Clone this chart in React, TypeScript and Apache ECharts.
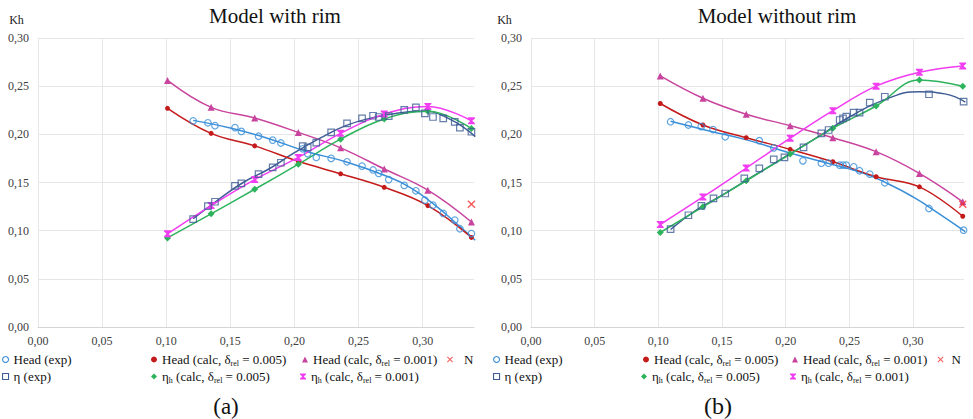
import React, { useEffect, useRef } from "react";
import * as echarts from "echarts";

// ---------- tick values ----------
const xTickValues = [0, 0.05, 0.1, 0.15, 0.2, 0.25, 0.3];
const yTickValues = [0, 0.05, 0.1, 0.15, 0.2, 0.25, 0.3];

// ---------- Panel (a): Model with rim ----------
const calcXA = [0.101, 0.135, 0.169, 0.203, 0.236, 0.27, 0.304, 0.338];
const headCalc005A = [0.227, 0.201, 0.188, 0.172, 0.159, 0.145, 0.126, 0.093];
const headCalc001A = [0.256, 0.228, 0.217, 0.202, 0.186, 0.164, 0.142, 0.109];
const etaCalc005A = [0.0925, 0.1175, 0.143, 0.169, 0.195, 0.216, 0.224, 0.206];
const etaCalc001A = [0.0967, 0.126, 0.153, 0.176, 0.201, 0.221, 0.229, 0.214];
const expXA = [0.121, 0.1325, 0.138, 0.1536, 0.1586, 0.172, 0.183, 0.1894, 0.2064, 0.2103, 0.217, 0.2286, 0.241, 0.2527, 0.2613, 0.2657, 0.2735, 0.2856, 0.2947, 0.3017, 0.308, 0.316, 0.325, 0.329, 0.338];
const headExpYA = [0.214, 0.212, 0.209, 0.207, 0.203, 0.198, 0.194, 0.191, 0.185, 0.18, 0.176, 0.175, 0.1715, 0.167, 0.163, 0.1594, 0.153, 0.147, 0.1414, 0.1317, 0.1265, 0.118, 0.111, 0.102, 0.097];
const etaExpYA = [0.112, 0.1255, 0.13, 0.1466, 0.149, 0.1587, 0.1657, 0.1705, 0.1878, 0.1865, 0.1913, 0.202, 0.2114, 0.2166, 0.2193, 0.218, 0.219, 0.2253, 0.228, 0.2218, 0.218, 0.2166, 0.213, 0.2069, 0.2027];
const headTrendA = [[0.121, 0.2145], [0.15, 0.2065], [0.18, 0.1955], [0.21, 0.182], [0.24, 0.1715], [0.27, 0.1575], [0.29, 0.145], [0.31, 0.126], [0.325, 0.109], [0.341, 0.09]];
const etaTrendA = [[0.121, 0.1125], [0.14, 0.1315], [0.16, 0.15], [0.18, 0.164], [0.2, 0.181], [0.22, 0.196], [0.24, 0.209], [0.26, 0.217], [0.28, 0.222], [0.3, 0.224], [0.32, 0.2165], [0.341, 0.1976]];
const nPointA = [[0.338, 0.1275]];

// ---------- Panel (b): Model without rim ----------
const calcXB = [0.1015, 0.135, 0.169, 0.2035, 0.237, 0.271, 0.305, 0.339];
const headCalc005B = [0.232, 0.2097, 0.1965, 0.1844, 0.1715, 0.156, 0.1455, 0.115];
const headCalc001B = [0.2606, 0.2374, 0.2208, 0.209, 0.1965, 0.182, 0.1594, 0.13];
const etaCalc005B = [0.0981, 0.1247, 0.1518, 0.1795, 0.2062, 0.2294, 0.2564, 0.25];
const etaCalc001B = [0.1064, 0.135, 0.165, 0.196, 0.2245, 0.25, 0.2644, 0.271];
const headExpB = [[0.1096, 0.2131], [0.1236, 0.2097], [0.1336, 0.208], [0.1429, 0.205], [0.1525, 0.1975], [0.1793, 0.1934], [0.1906, 0.186], [0.2135, 0.1725], [0.228, 0.17], [0.2337, 0.17], [0.2424, 0.168], [0.245, 0.168], [0.2476, 0.168], [0.2534, 0.1663], [0.258, 0.1622], [0.266, 0.1587], [0.2778, 0.1497], [0.3125, 0.123], [0.3397, 0.1005]];
const etaExpB = [[0.1096, 0.1016], [0.1236, 0.116], [0.1338, 0.1258], [0.1433, 0.1335], [0.1525, 0.1386], [0.1675, 0.1543], [0.1793, 0.1646], [0.1906, 0.174], [0.199, 0.176], [0.214, 0.1865], [0.228, 0.201], [0.2337, 0.2045], [0.2424, 0.2149], [0.245, 0.2166], [0.2476, 0.2183], [0.2534, 0.2225], [0.258, 0.2225], [0.266, 0.233], [0.2778, 0.239], [0.3125, 0.2416], [0.3397, 0.234]];
const headTrendB = [[0.1096, 0.2135], [0.14, 0.2035], [0.17, 0.194], [0.2, 0.182], [0.23, 0.171], [0.26, 0.16], [0.28, 0.149], [0.3, 0.135], [0.32, 0.118], [0.341, 0.099]];
const etaTrendB = [[0.1096, 0.1012], [0.13, 0.1215], [0.1525, 0.1387], [0.175, 0.157], [0.2, 0.177], [0.225, 0.197], [0.25, 0.218], [0.2778, 0.236], [0.305, 0.2443], [0.325, 0.242], [0.341, 0.2335]];
const nPointB = [[0.339, 0.1275]];

// ---------- names ----------
const N_HEAD_EXP = "Head (exp)";
const N_ETA_EXP = "η (exp)";
const N_HEAD_005 = "Head (calc, δrel = 0.005)";
const N_HEAD_001 = "Head (calc, δrel = 0.001)";
const N_ETA_005 = "ηh (calc, δrel = 0.005)";
const N_ETA_001 = "ηh (calc, δrel = 0.001)";
const N_N = "N";

const C_HEAD_EXP = "#3A8FD8";
const C_ETA_EXP = "#3E5C95";
const C_HEAD_005 = "#C41A1A";
const C_HEAD_001 = "#C8449E";
const C_ETA_005 = "#2DB35C";
const C_ETA_001 = "#F23CF2";
const C_N = "#F03030";

const SERIF = "Liberation Serif";
const HOURGLASS = "path://M0,0L10,0L10,1.6L6.2,5L10,8.4L10,10L0,10L0,8.4L3.8,5L0,1.6Z";
const CROSS = "path://M1.2,0L5,3.8L8.8,0L10,1.2L6.2,5L10,8.8L8.8,10L5,6.2L1.2,10L0,8.8L3.8,5L0,1.2Z";

const fmt = (v: number) => v.toFixed(2).replace(".", ",");

const legendLabel = (name: string) => {
  const parts: string[] = [];
  let rest = name;
  if (rest.startsWith("ηh")) {
    parts.push("{t|η}{s|h}");
    rest = rest.slice(2);
  }
  const i = rest.indexOf("δrel");
  if (i >= 0) {
    parts.push("{t|" + rest.slice(0, i) + "δ}{s|rel}{t|" + rest.slice(i + 4) + "}");
  } else {
    parts.push("{t|" + rest + "}");
  }
  return parts.join("");
};

function buildPanel(
  idx: number,
  calcX: number[],
  h005: number[],
  h001: number[],
  e005: number[],
  e001: number[],
  headExp: number[][],
  etaExp: number[][],
  headTrend: number[][],
  etaTrend: number[][],
  nPt: number[][]
) {
  const zip = (ys: number[]) => calcX.map((x, i) => [x, ys[i]]);
  const base = { xAxisIndex: idx, yAxisIndex: idx };
  return [
    { ...base, type: "line", name: N_HEAD_EXP, data: headTrend, smooth: 0.5, symbol: "none", lineStyle: { color: C_HEAD_EXP, width: 1.5 }, itemStyle: { color: C_HEAD_EXP }, z: 2 },
    { ...base, type: "line", name: N_ETA_EXP, data: etaTrend, smooth: 0.5, symbol: "none", lineStyle: { color: C_ETA_EXP, width: 1.5 }, itemStyle: { color: C_ETA_EXP }, z: 2 },
    { ...base, type: "line", name: N_HEAD_005, data: zip(h005), smooth: 0.4, symbol: "circle", symbolSize: 5, lineStyle: { color: C_HEAD_005, width: 1.5 }, itemStyle: { color: C_HEAD_005 }, z: 3 },
    { ...base, type: "line", name: N_HEAD_001, data: zip(h001), smooth: 0.4, symbol: "triangle", symbolSize: 7, lineStyle: { color: C_HEAD_001, width: 1.5 }, itemStyle: { color: C_HEAD_001 }, z: 3 },
    { ...base, type: "line", name: N_ETA_005, data: zip(e005), smooth: 0.4, symbol: "diamond", symbolSize: 7, lineStyle: { color: C_ETA_005, width: 1.5 }, itemStyle: { color: C_ETA_005 }, z: 3 },
    { ...base, type: "line", name: N_ETA_001, data: zip(e001), smooth: 0.4, symbol: HOURGLASS, symbolSize: 7, lineStyle: { color: C_ETA_001, width: 1.5 }, itemStyle: { color: C_ETA_001 }, z: 3 },
    { ...base, type: "scatter", name: N_HEAD_EXP, data: headExp, symbol: "circle", symbolSize: 6.5, itemStyle: { color: "rgba(255,255,255,0)", borderColor: C_HEAD_EXP, borderWidth: 1.2 }, z: 4 },
    { ...base, type: "scatter", name: N_ETA_EXP, data: etaExp, symbol: "rect", symbolSize: 6.5, itemStyle: { color: "rgba(255,255,255,0)", borderColor: C_ETA_EXP, borderWidth: 1.2 }, z: 4 },
    { ...base, type: "scatter", name: N_N, data: nPt, symbol: CROSS, symbolSize: 8, itemStyle: { color: C_N }, z: 5 },
  ];
}

const legendItem = (name: string, icon: string, itemStyle: any, left: number, top: number, padLeft = 0) => ({
  data: [{ name, icon, itemStyle }],
  left,
  top,
  padding: 0,
  itemWidth: 6,
  itemHeight: 6,
  selectedMode: false,
  formatter: legendLabel,
  textStyle: {
    fontFamily: SERIF,
    padding: [0, 0, 0, padLeft],
    rich: {
      t: { fontFamily: SERIF, fontSize: 13, lineHeight: 16, color: "#111" },
      s: { fontFamily: SERIF, fontSize: 8, lineHeight: 6, verticalAlign: "bottom", color: "#111" },
    },
  },
});

function legendsFor(offset: number, cols: number[], nLeft: number, nPad: number) {
  const r1 = 353;
  const r2 = 370;
  const open = (c: string) => ({ color: "#fff", borderColor: c, borderWidth: 1.1 });
  return [
    legendItem(N_HEAD_EXP, "circle", open(C_HEAD_EXP), offset, r1),
    legendItem(N_ETA_EXP, "rect", open(C_ETA_EXP), offset, r2),
    legendItem(N_HEAD_005, "circle", { color: C_HEAD_005 }, cols[0], r1),
    legendItem(N_ETA_005, "diamond", { color: C_ETA_005 }, cols[1], r2),
    legendItem(N_HEAD_001, "triangle", { color: C_HEAD_001 }, cols[2], r1),
    legendItem(N_ETA_001, HOURGLASS, { color: C_ETA_001 }, cols[3], r2),
    legendItem(N_N, CROSS, { color: C_N }, nLeft, r1, nPad),
  ];
}

const axisFont = { fontFamily: SERIF, fontSize: 12, color: "#404040" };

const makeX = (i: number) => ({
  gridIndex: i,
  type: "value",
  min: 0,
  max: 0.34,
  interval: 0.05,
  axisLine: { show: true, lineStyle: { color: "#d4d4d4" } },
  axisTick: { show: false, customValues: xTickValues },
  axisLabel: { ...axisFont, margin: 8, formatter: fmt, customValues: xTickValues },
  splitLine: { show: true, lineStyle: { color: "#e6e6e6" } },
});

const makeY = (i: number) => ({
  gridIndex: i,
  type: "value",
  min: 0,
  max: 0.3,
  interval: 0.05,
  axisLine: { show: false },
  axisTick: { show: false },
  axisLabel: { ...axisFont, margin: 9, formatter: fmt, customValues: yTickValues },
  splitLine: { show: true, lineStyle: { color: "#e6e6e6" } },
});

export default function App() {
  const ref = useRef<HTMLDivElement>(null);
  useEffect(() => {
    if (!ref.current) return;
    const chart = echarts.init(ref.current, undefined, { renderer: "svg" });
    const option: any = {
      animation: false,
      backgroundColor: "#ffffff",
      textStyle: { fontFamily: SERIF },
      title: [
        { text: "Model with rim", left: 275, top: 5, padding: 0, textAlign: "center", textStyle: { fontFamily: SERIF, fontSize: 21, fontWeight: "normal", color: "#111" } },
        { text: "Model without rim", left: 777, top: 5, padding: 0, textAlign: "center", textStyle: { fontFamily: SERIF, fontSize: 21, fontWeight: "normal", color: "#111" } },
      ],
      grid: [
        { left: 38, right: 499, top: 38, bottom: 92, containLabel: false },
        { left: 531, right: 9, top: 38, bottom: 92, containLabel: false },
      ],
      xAxis: [makeX(0), makeX(1)],
      yAxis: [makeY(0), makeY(1)],
      legend: [
        ...legendsFor(2, [151, 151, 302, 300], 447, 6),
        ...legendsFor(493, [643, 641, 792, 790], 937.5, 3),
      ],
      graphic: [
        { type: "text", x: 16.5, y: 19.5, style: { text: "Kh", fontFamily: SERIF, fontSize: 12, fill: "#222", align: "center", verticalAlign: "middle" } },
        { type: "text", x: 504.5, y: 19.5, style: { text: "Kh", fontFamily: SERIF, fontSize: 12, fill: "#222", align: "center", verticalAlign: "middle" } },
        { type: "text", x: 226, y: 406, style: { text: "(a)", fontFamily: SERIF, fontSize: 23, fill: "#111", align: "center", verticalAlign: "middle" } },
        { type: "text", x: 718, y: 406, style: { text: "(b)", fontFamily: SERIF, fontSize: 24, fill: "#111", align: "center", verticalAlign: "middle" } },
      ],
      series: [
        ...buildPanel(0, calcXA, headCalc005A, headCalc001A, etaCalc005A, etaCalc001A,
          expXA.map((x, i) => [x, headExpYA[i]]), expXA.map((x, i) => [x, etaExpYA[i]]),
          headTrendA, etaTrendA, nPointA),
        ...buildPanel(1, calcXB, headCalc005B, headCalc001B, etaCalc005B, etaCalc001B,
          headExpB, etaExpB, headTrendB, etaTrendB, nPointB),
      ],
    };
    chart.setOption(option);
    return () => chart.dispose();
  }, []);
  return (
    <div
      ref={ref}
      style={{ position: "fixed", left: 0, top: 0, width: 973, height: 419, background: "#fff" }}
    />
  );
}
